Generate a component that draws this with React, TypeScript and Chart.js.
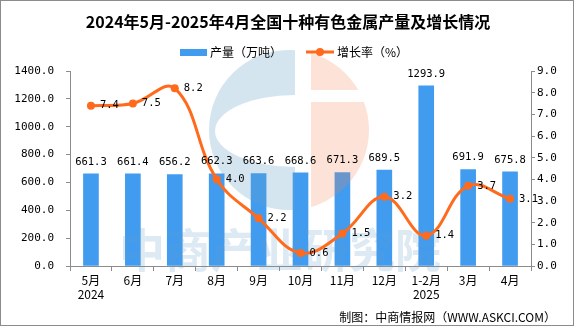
import React, { useEffect, useRef } from "react";
import { Chart, registerables } from "chart.js";

Chart.register(...registerables);

const categories: (string | string[])[] = [
  ["5月", "2024"], "6月", "7月", "8月", "9月", "10月", "11月", "12月", ["1-2月", "2025"], "3月", "4月",
];
const outputValues = [661.3, 661.4, 656.2, 662.3, 663.6, 668.6, 671.3, 689.5, 1293.9, 691.9, 675.8];
const growthValues = [7.4, 7.5, 8.2, 4.0, 2.2, 0.6, 1.5, 3.2, 1.4, 3.7, 3.1];
const titleText = "2024年5月-2025年4月全国十种有色金属产量及增长情况";
const barLegend = "产量（万吨）";
const lineLegend = "增长率（%）";
const footerText = "制图：中商情报网（WWW.ASKCI.COM）";
const watermarkText = "中商产业研究院";

const BAR_COLOR = "#419CF0";
const LINE_COLOR = "#FF6A1C";
const AXIS_COLOR = "#8C8C8C";
const NUM_FONT = "'DejaVu Sans Mono', 'Noto Sans CJK SC', sans-serif";
const CJK_FONT = "'Noto Sans CJK SC', sans-serif";

function drawWatermark(ctx: CanvasRenderingContext2D) {
  ctx.save();
  const cx = 289, cy = 130, r = 80;
  // blue left "C"
  ctx.save();
  ctx.beginPath();
  ctx.rect(cx - r - 2, cy - r - 2, 295 - (cx - r - 2), 2 * r + 4);
  ctx.clip();
  ctx.beginPath();
  ctx.arc(cx, cy, r, 0, Math.PI * 2);
  ctx.ellipse(295, 131, 80, 36, 0, 0, Math.PI * 2, true);
  ctx.fillStyle = "rgba(100,160,200,0.28)";
  ctx.fill("evenodd");
  ctx.restore();
  // orange right half with white band
  ctx.save();
  ctx.beginPath();
  ctx.rect(311, cy - r - 2, 100, 90 - (cy - r - 2));
  ctx.rect(311, 102, 100, cy + r + 2 - 102);
  ctx.clip();
  ctx.beginPath();
  ctx.arc(cx, cy, r, 0, Math.PI * 2);
  ctx.fillStyle = "rgba(240,128,80,0.23)";
  ctx.fill();
  ctx.restore();
  // watermark text
  ctx.fillStyle = "rgba(100,160,200,0.22)";
  ctx.font = `bold 46px ${CJK_FONT}`;
  ctx.textAlign = "center";
  ctx.textBaseline = "middle";
  ctx.fillText(watermarkText, 280, 250);
  ctx.restore();
}

const decorPlugin = {
  id: "decor",
  afterDatasetDraw(chart: any, args: any) {
    if (args.index === 0) drawWatermark(chart.ctx);
  },
  afterDatasetsDraw(chart: any) {
    const ctx = chart.ctx;
    ctx.save();
    ctx.fillStyle = "#000";
    ctx.font = `10.5px ${NUM_FONT}`;
    const barMeta = chart.getDatasetMeta(0);
    barMeta.data.forEach((el: any, i: number) => {
      ctx.textAlign = "center";
      ctx.textBaseline = "middle";
      ctx.fillText(outputValues[i].toFixed(1), el.x, el.y - 12);
    });
    const lineMeta = chart.getDatasetMeta(1);
    lineMeta.data.forEach((el: any, i: number) => {
      ctx.textAlign = "left";
      ctx.textBaseline = "middle";
      ctx.fillText(growthValues[i].toFixed(1), el.x + 9, el.y);
    });
    ctx.restore();
  },
  afterDraw(chart: any) {
    const ctx = chart.ctx;
    ctx.save();
    // title
    ctx.fillStyle = "#000";
    ctx.font = `bold 16px ${CJK_FONT}`;
    ctx.textAlign = "center";
    ctx.textBaseline = "middle";
    ctx.fillText(titleText, 288, 22);
    // legend
    ctx.fillStyle = BAR_COLOR;
    ctx.fillRect(180, 49, 27, 7);
    ctx.fillStyle = "#000";
    ctx.font = `12px ${CJK_FONT}`;
    ctx.textAlign = "left";
    ctx.fillText(barLegend, 210, 52);
    ctx.strokeStyle = LINE_COLOR;
    ctx.lineWidth = 3;
    ctx.beginPath();
    ctx.moveTo(306, 52);
    ctx.lineTo(334, 52);
    ctx.stroke();
    ctx.fillStyle = LINE_COLOR;
    ctx.beginPath();
    ctx.arc(320, 52, 4, 0, Math.PI * 2);
    ctx.fill();
    ctx.fillStyle = "#000";
    ctx.fillText(lineLegend, 337, 52);
    // footer
    ctx.textAlign = "right";
    ctx.font = `12px ${CJK_FONT}`;
    ctx.fillText(footerText, 556, 317);
    // frame
    ctx.strokeStyle = AXIS_COLOR;
    ctx.lineWidth = 1;
    ctx.strokeRect(0.5, 0.5, 573, 325);
    ctx.restore();
  },
};

export default function App() {
  const ref = useRef<HTMLCanvasElement | null>(null);
  useEffect(() => {
    if (!ref.current) return;
    const chart = new Chart(ref.current, {
      type: "bar",
      data: {
        labels: categories,
        datasets: [
          {
            type: "bar",
            label: barLegend,
            data: outputValues,
            backgroundColor: BAR_COLOR,
            barThickness: 15,
            yAxisID: "y",
            order: 2,
          },
          {
            type: "line",
            label: lineLegend,
            data: growthValues,
            borderColor: LINE_COLOR,
            backgroundColor: LINE_COLOR,
            borderWidth: 3,
            pointRadius: 4,
            pointBackgroundColor: LINE_COLOR,
            pointBorderWidth: 0,
            tension: 0.4,
            yAxisID: "y1",
            order: 1,
          } as any,
        ],
      },
      options: {
        responsive: false,
        animation: false,
        layout: { padding: { top: 71, left: 0, right: 0, bottom: 0 } },
        plugins: {
          legend: { display: false },
          title: { display: false },
          tooltip: { enabled: false },
        },
        scales: {
          x: {
            grid: { offset: true, drawOnChartArea: false, tickLength: 5, color: AXIS_COLOR },
            border: { color: AXIS_COLOR },
            ticks: { color: "#000", font: { size: 12, family: CJK_FONT }, padding: 2, maxRotation: 0, autoSkip: false },
            afterFit: (s: any) => { s.height = 60; },
          },
          y: {
            position: "left",
            min: 0,
            max: 1400,
            grid: { drawOnChartArea: false, tickLength: 4, color: AXIS_COLOR },
            border: { color: AXIS_COLOR },
            ticks: {
              stepSize: 200,
              color: "#000",
              font: { size: 11, family: NUM_FONT },
              padding: 12,
              callback: (v: any) => Number(v).toFixed(1),
            },
            afterFit: (s: any) => { s.width = 70; },
          },
          y1: {
            position: "right",
            min: 0,
            max: 9,
            grid: { drawOnChartArea: false, tickLength: 4, color: AXIS_COLOR },
            border: { color: AXIS_COLOR },
            ticks: {
              stepSize: 1,
              color: "#000",
              font: { size: 11, family: NUM_FONT },
              padding: 2,
              callback: (v: any) => Number(v).toFixed(1),
            },
            afterFit: (s: any) => { s.width = 44; },
          },
        },
      },
      plugins: [decorPlugin],
    });
    return () => chart.destroy();
  }, []);
  return (
    <div style={{ position: "fixed", left: 0, top: 0, width: 575, height: 326, background: "#fff" }}>
      <canvas ref={ref} width={575} height={326} style={{ display: "block" }} />
    </div>
  );
}
